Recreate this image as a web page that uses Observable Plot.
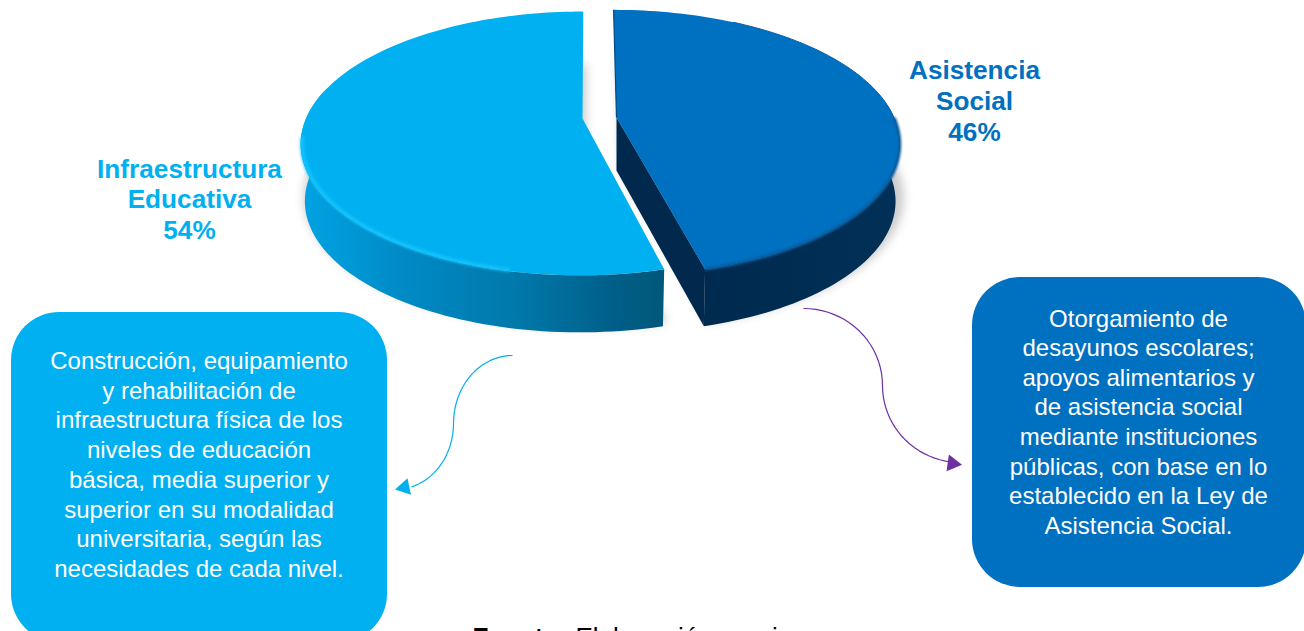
<!DOCTYPE html>
<html><head><meta charset="utf-8">
<script src="https://cdn.jsdelivr.net/npm/d3@7"></script>
<script src="https://cdn.jsdelivr.net/npm/@observablehq/plot@0.6"></script>
<style>html,body{margin:0;padding:0;background:#fff;overflow:hidden}</style>
</head><body><div id="chart"></div>
<script>
const categories = ["Infraestructura\nEducativa", "Asistencia\nSocial"];
const shares = [54, 46];
const infraLines = ["Construcción, equipamiento","y rehabilitación de","infraestructura física de los","niveles de educación","básica, media superior y","superior en su modalidad","universitaria, según las","necesidades de cada nivel."];
const socialLines = ["Otorgamiento de","desayunos escolares;","apoyos alimentarios y","de asistencia social","mediante instituciones","públicas, con base en lo","establecido en la Ley de","Asistencia Social."];
const sourceLabel = "Fuente:";
const sourceText = "Elaboración propia.";
const W = 1304, H = 631;
const LIGHT = "#00B0F0", DARK = "#0070C0", PURPLE = "#7030A0";

// perspective disc: angle in degrees clockwise from the top
const K = 0.189, DEPTH = 57;
const discs = {
  infra: {cx: 581.5, cy: 118, rx: 276, ry: 127.2, shear: -0.012},
  social: {cx: 616, cy: 117, rx: 277.5, ry: 128, shear: 0.027}
};
function project(d, deg, r = 1, lower = 0) {
  const a = deg * Math.PI / 180, u = r * Math.sin(a), v = -r * Math.cos(a), q = 1 - K * v;
  const shrink = lower ? 0.985 : 1;
  const py = d.ry * v / q;
  return {x: d.cx + shrink * d.rx * u / q + d.shear * py, y: d.cy + py + lower};
}
function arc(d, from, to, r = 1, lower = 0) {
  const n = Math.max(2, Math.ceil(Math.abs(to - from) / 1.5)), out = [];
  for (let i = 0; i <= n; i++) out.push(project(d, from + (to - from) * i / n, r, lower));
  return out;
}
const split = shares[1] / 100 * 360; // Asistencia runs 0..split, Infraestructura split..360
const infraCorner = {x: 582, y: discs.infra.cy};
const infraTop = [infraCorner, ...arc(discs.infra, split, 360)];
const socialTop = [{x: discs.social.cx, y: discs.social.cy}, ...arc(discs.social, 0, split)];
const infraWall = [...arc(discs.infra, split, 283), ...arc(discs.infra, 283, split, 1, DEPTH)];
const socialWall = [...arc(discs.social, 78, split), ...arc(discs.social, split, 78, 1, DEPTH)];
const socialCut = [project(discs.social, 0, 0), project(discs.social, split), project(discs.social, split, 1, DEPTH), project(discs.social, 0, 0, DEPTH - 4)];
const shift = (pts, dx, dy) => pts.map(p => ({x: p.x + dx, y: p.y + dy}));
const infraShadow = shift(infraTop, 3, DEPTH - 4);
const socialShadow = shift(socialTop, 4, DEPTH - 4);

// connectors: two quarter ellipses joined at a vertical tangent
const quarter = (cx, cy, rx, ry, a0, a1) => d3.range(0, 21).map(i => {
  const t = (a0 + (a1 - a0) * i / 20) * Math.PI / 180;
  return {x: cx + rx * Math.cos(t), y: cy + ry * Math.sin(t)};
});
const infraArrow = [...quarter(512, 423, 59, 68, 270, 180), ...quarter(395, 423, 58, 66, 0, 74)];
const socialArrow = [...quarter(803, 385, 79, 77, 270, 360), ...quarter(960, 385, 78, 77, 180, 97)];

const poly = (pts, fill, extra = {}) => Plot.line(pts, {x: "x", y: "y", fill, stroke: "none", ...extra});
const stroke = (pts, color, w, extra = {}) => Plot.line(pts, {x: "x", y: "y", stroke: color, strokeWidth: w, strokeLinecap: "butt", ...extra});
const label = (text, x, y, o) => Plot.text([text], {x: () => x, y: () => y, text: d => d, ...o});

const defs = () => {
  const ns = "http://www.w3.org/2000/svg";
  const g = document.createElementNS(ns, "defs");
  g.innerHTML = `
  <linearGradient id="wallInfra" gradientUnits="userSpaceOnUse" x1="301" x2="663" y1="0" y2="0">
    <stop offset="0" stop-color="#00A3E3"/><stop offset="0.3" stop-color="#0089C4"/>
    <stop offset="0.6" stop-color="#0078AA"/><stop offset="0.87" stop-color="#005E88"/>
    <stop offset="1" stop-color="#00587A"/></linearGradient>
  <linearGradient id="wallSocial" gradientUnits="userSpaceOnUse" x1="700" x2="900" y1="0" y2="0">
    <stop offset="0" stop-color="#002A50"/><stop offset="1" stop-color="#013056"/></linearGradient>`;
  return g;
};

const chart = Plot.plot({
  width: W, height: H, margin: 0,
  style: {fontFamily: "'Liberation Sans', Arial, sans-serif", background: "#fff"},
  x: {domain: [0, W], range: [0, W], axis: null},
  y: {domain: [0, H], range: [0, H], axis: null},
  marks: [
    defs,
    poly(infraShadow, "#000", {fillOpacity: 0.2, imageFilter: "blur(5px)"}),
    poly(socialShadow, "#000", {fillOpacity: 0.2, imageFilter: "blur(5px)"}),
    poly(infraWall, "url(#wallInfra)"),
    poly(socialWall, "url(#wallSocial)"),
    poly(socialCut, "#01294E"),
    poly(infraTop, LIGHT),
    stroke(arc(discs.infra, 192, 262, 0.995), "#14C6FF", 3.5, {imageFilter: "blur(1.5px)"}),
    poly(socialTop, DARK),
    stroke(arc(discs.social, 90, split), "#0A5B9C", 3, {imageFilter: "blur(1.2px)"}),
    stroke(arc(discs.social, 30, 92), "#0A60A6", 1, {imageFilter: "blur(0.5px)"}),
    stroke([project(discs.social, 0), project(discs.social, 0, 0)], "#014A85", 1.2),

    Plot.rect([infraLines], {x1: () => 11, x2: () => 387, y1: () => 312, y2: () => 642, fill: LIGHT, rx: 48}),
    Plot.rect([socialLines], {x1: () => 972, x2: () => 1306, y1: () => 277, y2: () => 587, fill: DARK, rx: 48}),

    stroke(infraArrow, LIGHT, 1.2),
    stroke(socialArrow, PURPLE, 1.2),
    Plot.dot([infraArrow], {x: () => 404, y: () => 487, r: 8, symbol: "triangle2", fill: LIGHT, stroke: "none", rotate: 258}),
    Plot.dot([socialArrow], {x: () => 952, y: () => 463, r: 8, symbol: "triangle2", fill: PURPLE, stroke: "none", rotate: 98}),

    label(`${categories[0]}\n${shares[0]}%`, 189, 198, {fill: LIGHT, fontSize: 26.2, fontWeight: "bold", lineHeight: 30.5 / 26.2, textAnchor: "middle"}),
    label(`${categories[1]}\n${shares[1]}%`, 974, 100, {fill: DARK, fontSize: 26.2, fontWeight: "bold", lineHeight: 31 / 26.2, textAnchor: "middle"}),
    label(infraLines.join("\n"), 198.5, 463, {fill: "#fff", fontSize: 24, lineHeight: 29.7 / 24, textAnchor: "middle"}),
    label(socialLines.join("\n"), 1138, 420.2, {fill: "#fff", fontSize: 24, lineHeight: 29.6 / 24, textAnchor: "middle"}),
    label(sourceLabel, 472, 637.5, {fill: "#000", fontSize: 26, fontWeight: "bold", textAnchor: "start"}),
    label(sourceText, 575, 637.5, {fill: "#000", fontSize: 26, textAnchor: "start"})
  ]
});
document.getElementById("chart").append(chart);
</script></body></html>
